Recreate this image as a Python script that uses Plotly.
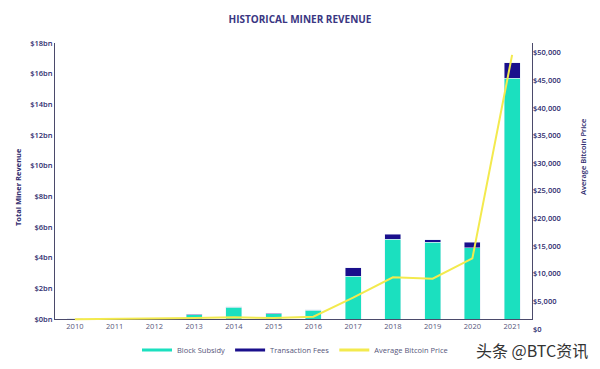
import plotly.graph_objects as go

years = ["2010", "2011", "2012", "2013", "2014", "2015", "2016", "2017", "2018", "2019", "2020", "2021"]
block_subsidy = [0.01, 0.06, 0.05, 0.28, 0.78, 0.35, 0.56, 2.80, 5.20, 5.02, 4.65, 15.70]   # $bn
transaction_fees = [0.0, 0.0, 0.0, 0.02, 0.02, 0.02, 0.03, 0.53, 0.32, 0.15, 0.35, 1.02]   # $bn
avg_btc_price = [1750, 1810, 1860, 1990, 2120, 1990, 2230, 5660, 9360, 9100, 12790, 49600]  # $

left_ticks = list(range(0, 19, 2))
right_ticks = list(range(0, 50001, 5000))

TEAL = "#1be0bf"
NAVY = "#1a0f8c"
YELLOW = "#f3ea4e"
TEXT = "#2e2b6e"
AXIS = "#4b4a6b"
FONT = "Open Sans"

fig = go.Figure()
fig.add_trace(go.Bar(x=years, y=block_subsidy, marker_color=TEAL, name="Block Subsidy",
                     showlegend=False, xaxis="x", yaxis="y"))
fig.add_trace(go.Bar(x=years, y=transaction_fees, marker_color=NAVY, name="Transaction Fees",
                     showlegend=False, xaxis="x", yaxis="y"))
fig.add_trace(go.Scatter(x=years, y=avg_btc_price, mode="lines", line=dict(color=YELLOW, width=2),
                         name="Average Bitcoin Price", showlegend=False, xaxis="x", yaxis="y2"))
# legend entries (line-style swatches as in the original)
for nm, col in [("Block Subsidy", TEAL), ("Transaction Fees", NAVY), ("Average Bitcoin Price", YELLOW)]:
    fig.add_trace(go.Scatter(x=[None], y=[None], mode="lines", line=dict(color=col, width=3),
                             name=nm, xaxis="x", yaxis="y"))

# page body has an 8px margin, so the figure is 592x361 and offsets are page-8
W, HT = 592, 361
H = 286.0   # plot height
PW = 477.0  # plot width
fig.update_layout(
    width=W, height=HT,
    margin=dict(l=47, r=68, t=35, b=40, autoexpand=False),
    paper_bgcolor="white", plot_bgcolor="rgba(0,0,0,0)",
    barmode="stack", bargap=0.6,
    font=dict(family=FONT, color=TEXT, size=8),
    title=dict(text="<b>HISTORICAL MINER REVENUE</b>", x=292 / W, xref="container",
               y=1 - 11 / HT, yanchor="middle", xanchor="center",
               font=dict(size=10, color="#3a3682", family=FONT)),
    xaxis=dict(type="category", anchor="y", showline=True, linecolor=AXIS, linewidth=1,
               showgrid=False, ticks="", tickfont=dict(size=7.5, color="#55557a")),
    yaxis=dict(domain=[10 / H, 1], anchor="x", range=[0, 18], tickvals=left_ticks,
               ticktext=[f"${v}bn" for v in left_ticks],
               showline=True, mirror=True, linecolor=AXIS, linewidth=1,
               showgrid=False, zeroline=False, ticks="",
               tickfont=dict(size=7.5, color=TEXT, weight=600)),
    yaxis2=dict(domain=[0, 1], anchor="x", side="right", range=[0, 51755],
                tickvals=right_ticks, ticktext=[f"${v:,}" for v in right_ticks],
                showline=False, showgrid=False, zeroline=False, ticks="",
                tickfont=dict(size=7.5, color=TEXT, weight=600)),
    legend=dict(orientation="h", x=287 / W, xref="container", xanchor="center",
                y=1 - 342 / HT, yref="container", yanchor="middle",
                font=dict(size=7.5, color="#55557a"), itemwidth=30, traceorder="normal"),
    annotations=[
        dict(text="<b>Total Miner Revenue</b>", textangle=-90, xref="paper", yref="paper",
             x=(10 - 47) / PW, y=(321 - 179) / H, xanchor="center", yanchor="middle",
             showarrow=False, font=dict(size=7.5, color=TEXT)),
        dict(text="Average Bitcoin Price", textangle=-90, xref="paper", yref="paper",
             x=(575 - 47) / PW, y=(321 - 149) / H, xanchor="center", yanchor="middle",
             showarrow=False, font=dict(size=7.5, color=TEXT, weight=600)),
        dict(text="头条 @BTC资讯", xref="paper", yref="paper",
             x=(524 - 47) / PW, y=-(342 - 321) / H, xanchor="center", yanchor="middle",
             showarrow=False, font=dict(size=16, color="#333333", family="Noto Sans CJK SC")),
    ],
)

fig.write_html("out.html")
